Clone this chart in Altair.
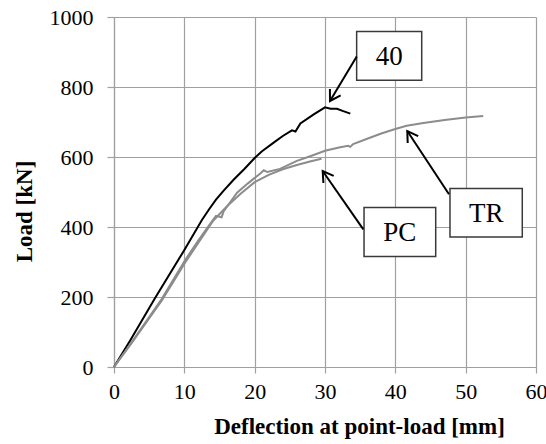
import math
import altair as alt
import pandas as pd

# ---- curve data ----
x_40 = [0, 2.3, 5.8, 9.9, 12.5, 13.5, 14.5, 15.5, 17, 18.5, 20, 21, 22.7, 24, 25.3, 25.8, 26.5, 28.4, 30, 30.8, 31.7, 32.6, 33.6]
y_40 = [0, 76, 196, 331, 420, 450, 478, 502, 535, 565, 597, 616, 641, 660, 676, 673, 696, 722, 742, 738, 738, 731, 724]

x_tr = [0, 2.7, 6.8, 10.1, 12, 13.7, 14.5, 15.3, 15.6, 17.5, 19, 20.8, 21.3, 21.8, 23.6, 26, 28, 30, 32, 33.3, 33.6, 34, 36, 38, 40, 41.6, 44, 47, 50, 52.5]
y_tr = [0, 76, 195, 305, 362, 410, 432, 428, 445, 498, 524, 553, 562, 557, 566, 589, 603, 618, 627, 632, 629, 637, 652, 667, 680, 689, 697, 706, 713, 717]

x_pc = [0, 2.7, 6.8, 10.1, 12, 14.1, 16, 18, 20, 22, 24, 26, 28, 29.5]
y_pc = [0, 74, 190, 298, 355, 418, 458, 495, 528, 549, 565, 577, 588, 595]

# ---- annotations ----
labels = ["40", "PC", "TR"]
box_x1 = [34.5, 35.55, 47.77]
box_x2 = [43.75, 45.74, 58.05]
box_y1 = [819, 315.4, 371.4]
box_y2 = [958.3, 455.4, 509.7]
arr_x1 = [34.51, 35.45, 47.63]
arr_y1 = [886.9, 393.4, 493.4]
arr_x2 = [30.71, 29.67, 41.70]
arr_y2 = [760, 560, 674.3]

W, H = 422, 350
XMAX, YMAX = 60, 1000

rows = []
for name, xs_, ys_ in [("40", x_40, y_40), ("TR", x_tr, y_tr), ("PC", x_pc, y_pc)]:
    for i, (a, b) in enumerate(zip(xs_, ys_)):
        rows.append({"series": name, "d": a, "load": b, "i": i})
curves = pd.DataFrame(rows)

angles = []
for xa, ya, xb, yb in zip(arr_x1, arr_y1, arr_x2, arr_y2):
    dx = (xb - xa) * W / XMAX
    dy = -(yb - ya) * H / YMAX
    angles.append(math.degrees(math.atan2(dx, -dy)) % 360)

ann = pd.DataFrame({
    "label": labels, "bx1": box_x1, "bx2": box_x2, "by1": box_y1, "by2": box_y2,
    "ax1": arr_x1, "ay1": arr_y1, "ax2": arr_x2, "ay2": arr_y2, "ang": angles,
})
ann["cx"] = (ann.bx1 + ann.bx2) / 2
ann["cy"] = (ann.by1 + ann.by2) / 2

FONT = "Liberation Serif"
xs = alt.Scale(domain=[0, XMAX], nice=False)
ys = alt.Scale(domain=[0, YMAX], nice=False)

lines = alt.Chart(curves).mark_line(strokeWidth=2).encode(
    x=alt.X("d:Q", scale=xs, title="Deflection at point-load [mm]",
            axis=alt.Axis(values=list(range(0, 61, 10)), format="d",
                          labelFont=FONT, titleFont=FONT, titleX=245)),
    y=alt.Y("load:Q", scale=ys, title="Load [kN]",
            axis=alt.Axis(values=list(range(0, 1001, 200)), format="d",
                          labelFont=FONT, titleFont=FONT, titleY=194)),
    color=alt.Color("series:N", scale=alt.Scale(domain=["40", "TR", "PC"],
                                                range=["#000000", "#8c8c8c", "#8c8c8c"]),
                    legend=None),
    detail="series:N",
    order="i:Q",
)

boxes = alt.Chart(ann).mark_rect(fill="white", stroke="#3a3a3a", strokeWidth=1.5).encode(
    x="bx1:Q", x2="bx2:Q", y="by1:Q", y2="by2:Q")

texts = alt.Chart(ann).mark_text(font=FONT, fontSize=27, color="#000000", baseline="middle", dy=1).encode(
    x="cx:Q", y="cy:Q", text="label:N")

shafts = alt.Chart(ann).mark_rule(color="#000000", strokeWidth=2).encode(
    x="ax1:Q", y="ay1:Q", x2="ax2:Q", y2="ay2:Q")

heads = alt.Chart(ann).mark_point(
    shape="M -0.55 0.9 L 0 0 L 0.55 0.9", filled=False, color="#000000",
    strokeWidth=2, size=520, opacity=1).encode(
    x="ax2:Q", y="ay2:Q", angle=alt.Angle("ang:Q", scale=None))

chart = alt.layer(lines, boxes, texts, shafts, heads).properties(
    width=W, height=H,
    autosize=alt.AutoSizeParams(type="none"),
    padding={"left": 114, "top": 17, "right": 10, "bottom": 76},
    background="white",
).configure(font=FONT).configure_view(stroke=None).configure_axis(
    grid=True, gridColor="#a0a0a0", gridWidth=1.2,
    domainColor="#a0a0a0", domainWidth=1.2,
    tickColor="#a0a0a0", tickWidth=1.2,
    labelFont=FONT, labelFontSize=22, labelColor="#000000",
    titleFont=FONT, titleFontSize=23, titleFontWeight="bold", titleColor="#000000",
).configure_axisX(
    tickSize=6, labelPadding=8, titlePadding=13, labelFlush=False,
).configure_axisY(
    tickSize=7, labelPadding=14, titlePadding=13,
)

chart.save("out.html", embed_options={"renderer": "svg", "actions": False})
